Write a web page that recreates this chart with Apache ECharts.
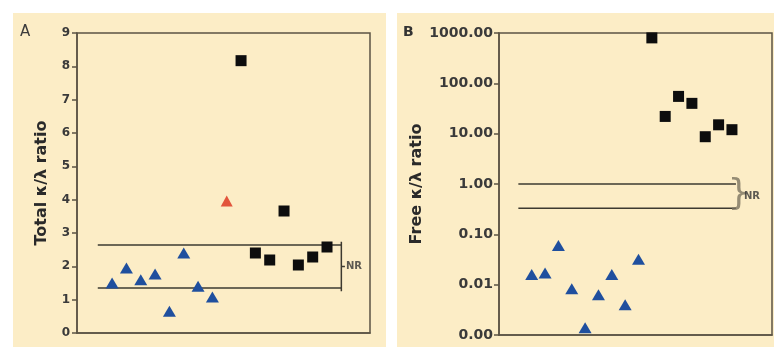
<!DOCTYPE html>
<html>
<head>
<meta charset="utf-8">
<script src="https://cdn.jsdelivr.net/npm/echarts@6/dist/echarts.min.js"></script>
<style>
  html, body { margin: 0; padding: 0; background: #fff; }
  #chart { width: 774px; height: 351px; }
</style>
</head>
<body>
<div id="chart"></div>
<script>
// panel A: total kappa/lambda ratio (linear)
const totalBlueX = [1, 2, 3, 4, 5, 6, 7, 8];
const totalBlue = [1.5, 1.95, 1.6, 1.77, 0.65, 2.4, 1.4, 1.08];
const totalRedX = [9];
const totalRed = [3.96];
const totalBlackX = [10, 11, 12, 13, 14, 15, 16];
const totalBlack = [8.17, 2.4, 2.19, 3.66, 2.04, 2.28, 2.58];
const totalNR = [1.35, 2.64];

// panel B: free kappa/lambda ratio (log)
const freeBlueX = [1, 2, 3, 4, 5, 6, 7, 8, 9];
const freeBlue = [0.016, 0.017, 0.06, 0.0083, 0.0014, 0.0063, 0.016, 0.004, 0.032];
const freeBlackX = [10, 11, 12, 13, 14, 15, 16];
const freeBlack = [800, 22, 55, 40, 8.7, 15, 12];
const freeNR = [0.33, 1.0];

const nrStart = 0;
const nrEndA = 17;
const nrEndB = 16.3;

const axisColor = "#5b5344";
const labelColor = "#3a3a3a";
const blue = "#1f4f9e";
const red = "#e2553c";
const black = "#0d0d0d";

const pts = (xs, ys) => xs.map((x, i) => [x, ys[i]]);

const chart = echarts.init(document.getElementById("chart"));

const yAxisCommon = {
  axisLine: { show: true, onZero: false, lineStyle: { color: axisColor, width: 1.5 } },
  axisTick: { show: true, inside: false, length: 5, lineStyle: { color: axisColor, width: 1.5 } },
  splitLine: { show: false },
  nameLocation: "middle",
  nameRotate: 90,
  nameTextStyle: { fontFamily: "DejaVu Sans", fontWeight: "bold", fontSize: 16, color: "#2a2a2a" }
};

const xAxisCommon = {
  type: "value",
  min: -1.45,
  max: 19,
  axisLine: { show: true, onZero: false, lineStyle: { color: axisColor, width: 1.5 } },
  axisTick: { show: false },
  axisLabel: { show: false },
  splitLine: { show: false }
};

const nrLine = (xi, yi, v, end) => ({
  type: "line",
  xAxisIndex: xi,
  yAxisIndex: yi,
  data: [[nrStart, v], [end, v]],
  symbol: "none",
  silent: true,
  lineStyle: { color: "#3d3a30", width: 1.5 },
  z: 1
});

const marks = (xi, shape, size, color, data) => ({
  type: "scatter", xAxisIndex: xi, yAxisIndex: xi, symbol: shape, symbolSize: size,
  itemStyle: { color: color, opacity: 1 }, data: data, z: 3
});

const nrMidA = (totalNR[0] + totalNR[1]) / 2;

const option = {
  animation: false,
  backgroundColor: "#ffffff",
  graphic: [
    { type: "rect", shape: { x: 13, y: 13, width: 373, height: 334 }, style: { fill: "#fcedc6" }, z: -10 },
    { type: "rect", shape: { x: 397, y: 13, width: 377, height: 334 }, style: { fill: "#fcedc6" }, z: -10 },
    { type: "text", left: 20, top: 25, style: { text: "A", fontFamily: "DejaVu Sans", fontSize: 15, fill: "#3c3c3c" } },
    { type: "text", left: 403, top: 25, style: { text: "B", fontFamily: "DejaVu Sans", fontWeight: "bold", fontSize: 14, fill: "#333" } }
  ],
  grid: [
    { left: 77, top: 33, width: 293, height: 300, show: true, borderColor: axisColor, borderWidth: 1.5, backgroundColor: "transparent" },
    { left: 499, top: 33, width: 273, height: 302, show: true, borderColor: axisColor, borderWidth: 1.5, backgroundColor: "transparent" }
  ],
  xAxis: [
    Object.assign({ gridIndex: 0 }, xAxisCommon),
    Object.assign({ gridIndex: 1 }, xAxisCommon)
  ],
  yAxis: [
    Object.assign({}, yAxisCommon, {
      gridIndex: 0,
      type: "value",
      min: 0,
      max: 9,
      interval: 1,
      name: "Total κ/λ ratio",
      nameGap: 27,
      axisLabel: { margin: 7, fontFamily: "DejaVu Sans", fontWeight: "bold", fontSize: 12, color: labelColor }
    }),
    Object.assign({}, yAxisCommon, {
      gridIndex: 1,
      type: "log",
      logBase: 10,
      min: 0.001,
      max: 1000,
      name: "Free κ/λ ratio",
      nameGap: 71,
      axisLabel: {
        margin: 6, fontFamily: "DejaVu Sans", fontWeight: "bold", fontSize: 14, color: labelColor,
        formatter: (v) => v.toFixed(2)
      }
    })
  ],
  series: [
    nrLine(0, 0, totalNR[0], nrEndA),
    nrLine(0, 0, totalNR[1], nrEndA),
    {
      type: "line", xAxisIndex: 0, yAxisIndex: 0, symbol: "none", silent: true,
      data: [[nrEndA, totalNR[0] - 0.1], [nrEndA, totalNR[1] + 0.1]],
      lineStyle: { color: "#3d3a30", width: 1.5 }
    },
    {
      type: "line", xAxisIndex: 0, yAxisIndex: 0, symbol: "none", silent: true,
      data: [[nrEndA, nrMidA], [nrEndA + 0.25, nrMidA]],
      lineStyle: { color: "#3d3a30", width: 1.5 }
    },
    {
      type: "scatter", xAxisIndex: 0, yAxisIndex: 0, symbolSize: 0, silent: true,
      data: [[nrEndA + 0.25, nrMidA]],
      label: { show: true, position: "right", distance: 1, formatter: "NR", fontFamily: "DejaVu Sans", fontWeight: "bold", fontSize: 10, color: "#333" }
    },
    marks(0, "triangle", [13, 11], blue, pts(totalBlueX, totalBlue)),
    marks(0, "triangle", [12, 11], red, pts(totalRedX, totalRed)),
    marks(0, "rect", 11, black, pts(totalBlackX, totalBlack)),

    nrLine(1, 1, freeNR[0], nrEndB),
    nrLine(1, 1, freeNR[1], nrEndB),
    {
      type: "scatter", xAxisIndex: 1, yAxisIndex: 1, symbolSize: 0, silent: true,
      data: [[nrEndB, Math.sqrt(freeNR[0] * freeNR[1])]],
      label: {
        show: true, position: "inside", formatter: "}", offset: [3, -1],
        fontFamily: "DejaVu Sans", fontSize: 36, color: "#7a735f"
      }
    },
    {
      type: "scatter", xAxisIndex: 1, yAxisIndex: 1, symbolSize: 0, silent: true,
      data: [[nrEndB, Math.sqrt(freeNR[0] * freeNR[1])]],
      label: {
        show: true, position: "right", distance: 8, formatter: "NR",
        fontFamily: "DejaVu Sans", fontWeight: "bold", fontSize: 10, color: "#333"
      }
    },
    marks(1, "triangle", [13, 11], blue, pts(freeBlueX, freeBlue)),
    marks(1, "rect", 11, black, pts(freeBlackX, freeBlack))
  ]
};

chart.setOption(option);
</script>
</body>
</html>
